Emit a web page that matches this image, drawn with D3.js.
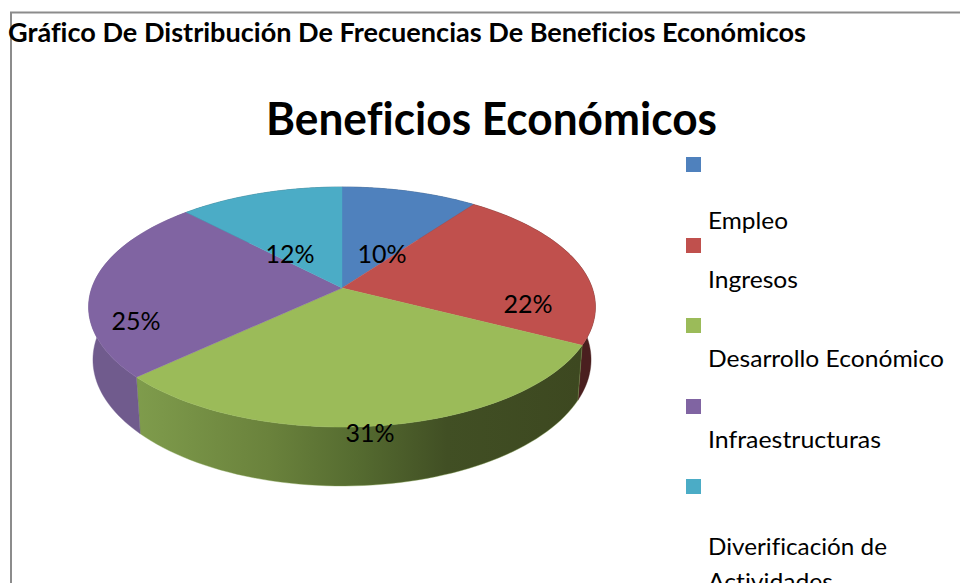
<!DOCTYPE html>
<html><head><meta charset="utf-8">
<script src="https://cdn.jsdelivr.net/npm/d3@7/dist/d3.min.js"></script>
<style>html,body{margin:0;background:#fff}svg{display:block}text{font-family:Lato,"Open Sans",sans-serif;fill:#000;font-variant-ligatures:none}</style>
</head><body><script>
const categories=["Empleo","Ingresos","Desarrollo Económico","Infraestructuras","Diverificación de Actividades"];
const values=[10.1,22.4,30.6,24.7,12.2];
const topColors=["#4f81bd","#c0504d","#9bbb59","#8064a2","#4bacc6"];
const sideStops=[
 [["0","#2c4668"]],
 [["0","#4a1f1f"]],
 [["0","#7f9c4c"],["0.3","#6a823c"],["0.5","#556b30"],["0.7","#414f24"],["1","#3d4820"]],
 [["0","#705b8d"],["1","#6b5585"]],
 [["0","#2a6070"]]];
const labelPos=[[382,263],[528,313],[370,442],[136,330],[290,263]];
const legendSwatchY=[157,238,318,399,479];
const legendLines=[[["Empleo",229,80]],[["Ingresos",288,90]],[["Desarrollo Económico",367,236]],[["Infraestructuras",448,173]],[["Diverificación de",555,179],["Actividades",590,125]]];

const W=960,H=583;
const svg=d3.select("body").append("svg").attr("width",W).attr("height",H);
// Perspective projection of the pie disc (u across, v toward viewer, h depth)
const cx=342,k=250.2,p=.1583,yA=288,b=71.4,q=.017,c=57.9;
const proj=(ang,r,h)=>{const u=r*Math.sin(ang),v=-r*Math.cos(ang),w=1-p*v+q*h;
  return [cx+k*u/w,(yA+b*v+c*h)/w];};
const arcs=d3.pie().sort(null).value(d=>d)(values);
const line=d3.line();
const rim=(a,h)=>d3.range(0,61).map(i=>proj(a.startAngle+(a.endAngle-a.startAngle)*i/60,1,h));

const defs=svg.append("defs");
sideStops.forEach((stops,i)=>{
  const g=defs.append("linearGradient").attr("id","side"+i).attr("gradientUnits","userSpaceOnUse")
    .attr("x1",136).attr("x2",580).attr("y1",0).attr("y2",0);
  stops.forEach(s=>g.append("stop").attr("offset",s[0]).attr("stop-color",s[1]));
});
// sides first, top faces painted over
svg.append("g").selectAll("path").data(arcs).join("path")
  .attr("d",a=>line(rim(a,0).concat(rim(a,1).reverse()))+"Z")
  .attr("fill",(a,i)=>`url(#side${i})`).attr("stroke",(a,i)=>sideStops[i][0][1]).attr("stroke-width",.4);
svg.append("g").selectAll("path").data(arcs).join("path")
  .attr("d",a=>line([[cx,yA]].concat(rim(a,0)))+"Z")
  .attr("fill",(a,i)=>topColors[i]).attr("stroke",(a,i)=>topColors[i]).attr("stroke-width",.4);

// Frame
svg.append("path").attr("d",`M11,${H}V12.5H${W}`).attr("fill","none").attr("stroke","#8c8c8c").attr("stroke-width",2);

// Titles
svg.append("text").attr("x",8).attr("y",42).attr("font-size",26).attr("font-weight",700)
  .attr("textLength",798).attr("lengthAdjust","spacingAndGlyphs")
  .text("Gráfico De Distribución De Frecuencias De Beneficios Económicos");
svg.append("text").attr("x",266).attr("y",135).attr("font-size",46).attr("font-weight",700)
  .attr("textLength",451).attr("lengthAdjust","spacingAndGlyphs")
  .text("Beneficios Económicos");

// Data labels
svg.append("g").selectAll("text").data(values).join("text")
  .attr("x",(d,i)=>labelPos[i][0]).attr("y",(d,i)=>labelPos[i][1])
  .attr("text-anchor","middle").attr("font-size",25)
  .text(d=>Math.round(d)+"%");

// Legend
const leg=svg.append("g");
leg.selectAll("rect").data(categories).join("rect")
  .attr("x",686).attr("y",(d,i)=>legendSwatchY[i]).attr("width",15).attr("height",15)
  .attr("fill",(d,i)=>topColors[i]);
leg.selectAll("text").data(legendLines.flat()).join("text")
  .attr("x",708).attr("y",d=>d[1]).attr("font-size",24)
  .attr("textLength",d=>d[2]).attr("lengthAdjust","spacingAndGlyphs")
  .text(d=>d[0]);
</script></body></html>
